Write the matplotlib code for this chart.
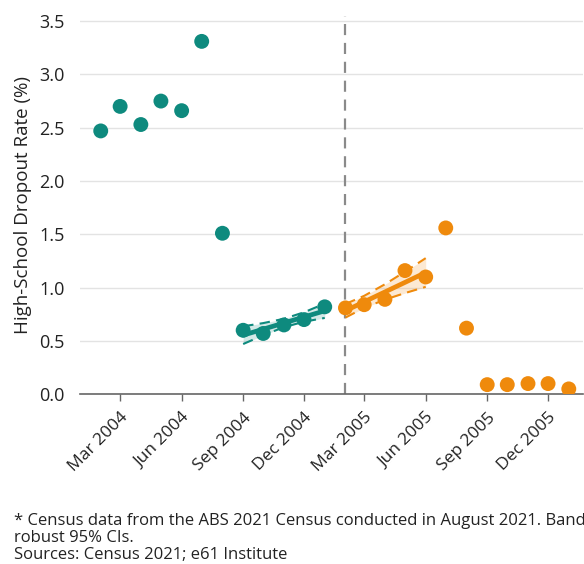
import matplotlib

matplotlib.use("Agg")

import matplotlib.dates as mdates
import matplotlib.pyplot as plt
import numpy as np
import pandas as pd

plt.rcParams["font.family"] = ["Open Sans", "DejaVu Sans"]

TEAL = "#0e8a7e"
ORANGE = "#ef8a0c"

# monthly dropout rates (%) before and after the change
pre_months = pd.date_range("2004-02-01", "2005-01-01", freq="MS")
pre_rate = [2.47, 2.70, 2.53, 2.75, 2.66, 3.31, 1.51, 0.60, 0.57, 0.65, 0.70, 0.82]

post_months = pd.date_range("2005-02-01", "2006-01-01", freq="MS")
post_rate = [0.81, 0.84, 0.89, 1.16, 1.10, 1.56, 0.62, 0.09, 0.09, 0.10, 0.10, 0.05]

cutoff = pd.Timestamp("2005-02-01")

# windows used for the local linear fits
pre_fit_idx = slice(7, 12)
post_fit_idx = slice(0, 5)


def robust_fit(dates, values):
    """OLS line with HC1 robust 95% band."""
    x = mdates.date2num(dates)
    y = np.asarray(values, dtype=float)
    X = np.column_stack([np.ones_like(x), x - x.mean()])
    xtx_inv = np.linalg.inv(X.T @ X)
    beta = xtx_inv @ X.T @ y
    resid = y - X @ beta
    n, k = X.shape
    meat = X.T @ (X * (resid ** 2)[:, None])
    cov = xtx_inv @ meat @ xtx_inv * n / (n - k)
    fit = X @ beta
    se = np.sqrt(np.einsum("ij,jk,ik->i", X, cov, X))
    return x, fit, fit - 1.96 * se, fit + 1.96 * se


fig = plt.figure(figsize=(5.84, 5.64), dpi=100)
ax = fig.add_axes([0.137, 0.301, 0.861, 0.671])

for months, rate, idx, color in [
    (pre_months, pre_rate, pre_fit_idx, TEAL),
    (post_months, post_rate, post_fit_idx, ORANGE),
]:
    ax.scatter(months, rate, s=115, color=color, edgecolors="none", zorder=3)
    x, fit, lo, hi = robust_fit(months[idx], rate[idx])
    ax.fill_between(x, lo, hi, color=color, alpha=0.18, linewidth=0, zorder=2)
    ax.plot(x, lo, color=color, linestyle=(0, (5, 3)), linewidth=1.5, zorder=2)
    ax.plot(x, hi, color=color, linestyle=(0, (5, 3)), linewidth=1.5, zorder=2)
    ax.plot(x, fit, color=color, linewidth=3.4, solid_capstyle="round", zorder=4)

ax.axvline(cutoff, color="#8a8a8a", linestyle=(0, (5, 3.5)), linewidth=1.6, zorder=1)

ax.set_xlim(pd.Timestamp("2004-01-01"), pd.Timestamp("2006-01-22"))
ax.set_ylim(0, 3.55)
ax.set_yticks(np.arange(0, 3.51, 0.5))
ax.yaxis.set_major_formatter(matplotlib.ticker.FormatStrFormatter("%.1f"))
ax.xaxis.set_major_locator(mdates.MonthLocator(bymonth=[3, 6, 9, 12]))
ax.xaxis.set_major_formatter(mdates.DateFormatter("%b %Y"))

ax.grid(axis="y", color="#e3e3e3", linewidth=1.0)
ax.set_axisbelow(True)
for side in ["top", "right", "left"]:
    ax.spines[side].set_visible(False)
ax.spines["bottom"].set_color("#666666")
ax.spines["bottom"].set_linewidth(1.2)
ax.tick_params(axis="y", length=0, labelsize=13, labelcolor="#222222", pad=11)
ax.tick_params(axis="x", length=5, width=1, color="#666666", labelsize=12.5,
               labelcolor="#222222", pad=6)
for label in ax.get_xticklabels():
    label.set_rotation(45)
    label.set_ha("right")
    label.set_rotation_mode("anchor")

ax.set_ylabel("High-School Dropout Rate (%)", fontsize=13.5, color="#222222", labelpad=5)

footnote = [
    "* Census data from the ABS 2021 Census conducted in August 2021. Bands are",
    "robust 95% CIs.",
    "Sources: Census 2021; e61 Institute",
]
for i, line in enumerate(footnote):
    fig.text(0.024, 1 - (521 + 17 * i) / 564, line, fontsize=12, color="#222222",
             va="center", ha="left")

fig.savefig("out.png", dpi=100)
